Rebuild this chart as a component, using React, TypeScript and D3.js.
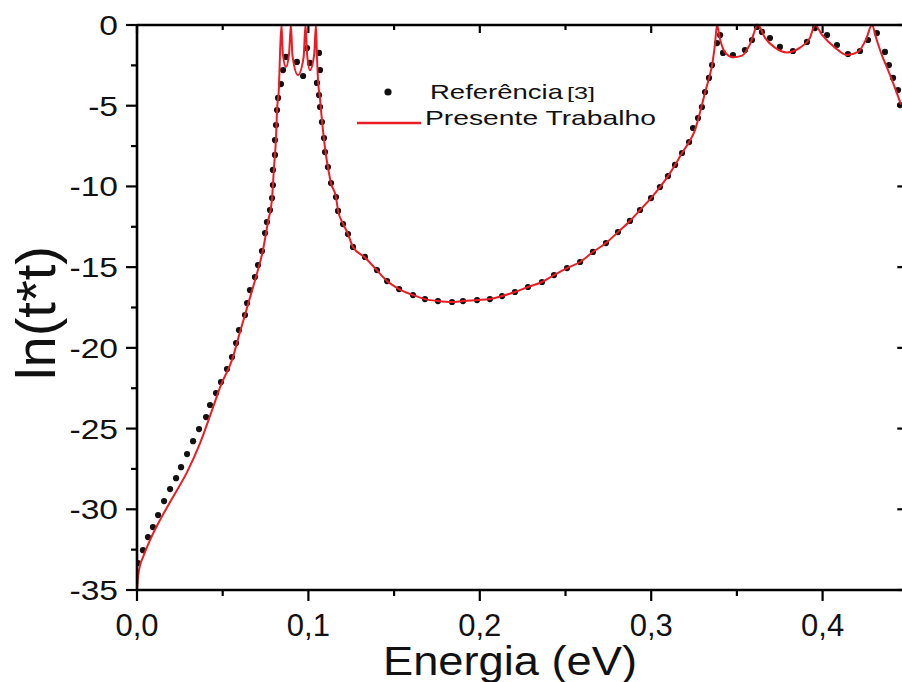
import React from "react";
import * as d3 from "d3";

// Axis ticks
const xMajorTicks = [0, 0.1, 0.2, 0.3, 0.4];
const xTickLabels = ["0,0", "0,1", "0,2", "0,3", "0,4"];
const xMinorTicks = [0.05, 0.15, 0.25, 0.35, 0.45];
const yMajorTicks = [0, -5, -10, -15, -20, -25, -30, -35];
const yTickLabels = ["0", "-5", "-10", "-15", "-20", "-25", "-30", "-35"];
const yMinorTicks = [-2.5, -7.5, -12.5, -17.5, -22.5, -27.5, -32.5];

// Series: Referência [3] (black dots) — [energy eV, ln(t*t)]
const referencia: [number, number][] = [
  [0.0006, -33.33], [0.0035, -32.53], [0.0064, -31.72], [0.0093, -31.1], [0.0123, -30.36],
  [0.0158, -29.49], [0.0193, -28.75], [0.0228, -28.07], [0.0257, -27.39], [0.0292, -26.58],
  [0.0327, -25.78], [0.0362, -25.03], [0.0403, -24.29], [0.0426, -23.54], [0.0461, -22.8],
  [0.049, -22.12], [0.0525, -21.31], [0.0554, -20.57], [0.0578, -19.7], [0.0595, -18.9],
  [0.063, -17.97], [0.0642, -17.22], [0.0659, -16.42], [0.0688, -15.61], [0.0706, -14.87],
  [0.0729, -14.0], [0.0747, -12.89], [0.0758, -12.21], [0.0776, -11.46], [0.0788, -10.72],
  [0.0793, -9.91], [0.0793, -8.98], [0.0805, -8.05], [0.0805, -7.13], [0.0811, -6.2],
  [0.0817, -5.27], [0.0823, -4.52], [0.084, -3.66], [0.0852, -2.79], [0.0869, -1.98],
  [0.0933, -2.29], [0.0969, -3.16], [0.0992, -1.43], [0.1009, -2.35], [0.1062, -1.73],
  [0.1068, -2.79], [0.105, -3.59], [0.1062, -4.34], [0.1068, -5.08], [0.1079, -6.01],
  [0.1091, -7.0], [0.1097, -7.87], [0.1114, -8.8], [0.1132, -9.79], [0.1161, -10.66],
  [0.1173, -11.52], [0.1202, -12.33], [0.1231, -12.95], [0.126, -13.75], [0.133, -14.37],
  [0.14, -15.18], [0.1459, -15.86], [0.1529, -16.36], [0.161, -16.73], [0.168, -16.98],
  [0.1756, -17.1], [0.1838, -17.16], [0.1902, -17.1], [0.1984, -17.04], [0.2059, -16.98],
  [0.213, -16.79], [0.2205, -16.54], [0.2281, -16.23], [0.2363, -15.92], [0.2433, -15.49],
  [0.2509, -15.06], [0.2585, -14.68], [0.266, -14.06], [0.2736, -13.51], [0.2806, -12.83],
  [0.2876, -12.14], [0.2935, -11.46], [0.2999, -10.72], [0.3051, -10.04], [0.3098, -9.36],
  [0.3139, -8.67], [0.318, -7.93], [0.3221, -7.25], [0.3244, -6.38], [0.3273, -5.76],
  [0.3296, -5.08], [0.3314, -4.15], [0.3337, -3.28], [0.3355, -2.48], [0.3384, -1.12],
  [0.3402, -0.62], [0.3419, -1.73], [0.3477, -1.86], [0.3547, -1.55], [0.3588, -0.93],
  [0.3617, -0.12], [0.3646, -0.43], [0.3693, -0.81], [0.3751, -1.36], [0.3827, -1.61],
  [0.3909, -1.05], [0.3956, -0.19], [0.4026, -0.62], [0.4084, -1.24], [0.4148, -1.8],
  [0.4218, -1.61], [0.4265, -0.93], [0.4317, -0.5], [0.4364, -1.67], [0.4387, -2.48],
  [0.4411, -3.28], [0.444, -4.03], [0.4452, -4.96],
];

// Series: Presente Trabalho (red line) — [energy eV, ln(t*t)]
const presenteTrabalho: [number, number][] = [
  [0, -35], [0.0006, -34.2], [0.0018, -33.46], [0.0035, -32.96], [0.0076, -31.91],
  [0.0134, -30.67], [0.021, -29.24], [0.0292, -27.7], [0.0368, -25.9], [0.0444, -23.67],
  [0.049, -22.3], [0.0554, -20.76], [0.0601, -19.02], [0.0648, -17.29], [0.0694, -15.61],
  [0.0735, -13.94], [0.0764, -12.21], [0.0788, -10.72], [0.0799, -8.86], [0.0811, -7.0],
  [0.0817, -5.27], [0.0828, -3.9], [0.0835, -1.6], [0.0843, 0], [0.0851, -1.8],
  [0.0869, -2.6], [0.0887, -1.8], [0.0898, 0], [0.0907, -1.9], [0.0939, -3.1],
  [0.0972, -2.0], [0.0983, 0], [0.0993, -1.9], [0.1009, -2.8], [0.1034, -1.8],
  [0.1044, 0], [0.105, -2.0], [0.1056, -3.41], [0.1068, -4.6], [0.1079, -5.9],
  [0.1091, -7.1], [0.1103, -8.1], [0.1114, -8.8], [0.1132, -9.8], [0.1161, -10.66],
  [0.1173, -11.5], [0.1202, -12.3], [0.1231, -12.95], [0.126, -13.75], [0.133, -14.4],
  [0.14, -15.2], [0.1459, -15.86], [0.1529, -16.36], [0.161, -16.73], [0.168, -16.98],
  [0.1756, -17.1], [0.1838, -17.16], [0.1902, -17.1], [0.1984, -17.04], [0.2059, -16.98],
  [0.213, -16.79], [0.2205, -16.54], [0.2281, -16.23], [0.2363, -15.92], [0.2433, -15.49],
  [0.2509, -15.06], [0.2585, -14.68], [0.266, -14.06], [0.2736, -13.51], [0.2806, -12.83],
  [0.2876, -12.14], [0.2935, -11.46], [0.2999, -10.72], [0.3051, -10.04], [0.3098, -9.36],
  [0.3139, -8.67], [0.318, -7.93], [0.3221, -7.25], [0.3256, -6.5], [0.3285, -5.4],
  [0.3314, -4.2], [0.3337, -3.3], [0.3355, -2.5], [0.3372, -1.2], [0.3384, 0],
  [0.3402, -0.9], [0.3431, -1.7], [0.3477, -2.0], [0.353, -1.9], [0.3576, -1.2],
  [0.3623, 0], [0.3664, -0.8], [0.3722, -1.4], [0.3792, -1.7], [0.3868, -1.4],
  [0.3926, -0.8], [0.3956, 0], [0.3996, -0.6], [0.4072, -1.4], [0.4142, -1.86],
  [0.4207, -1.67], [0.4253, -0.9], [0.4288, 0], [0.4312, -0.8], [0.4347, -1.9],
  [0.4382, -2.8], [0.4422, -3.9], [0.4463, -5.1],
];

const legendLabels = ["Referência", "[3]", "Presente Trabalho"];
const xAxisTitle = "Energia (eV)";
const yAxisTitle = "ln(t*t)";

export default function App() {
  const W = 902;
  const H = 682;
  const x = d3.scaleLinear().domain([0, 0.45]).range([137, 908.3]);
  const y = d3.scaleLinear().domain([-35, 0]).range([590, 25]);
  const x0 = x(0);
  const x1 = x(0.45);
  const y0 = y(-35);
  const y1 = y(0);
  const line = d3
    .line<[number, number]>()
    .x((d) => x(d[0]))
    .y((d) => y(d[1]))
    .curve(d3.curveMonotoneX);

  const red = "#ec1c24";
  const font = "'Liberation Sans', Arial, Helvetica, sans-serif";
  const axisW = 2.6;

  return (
    <svg
      width={W}
      height={H}
      style={{ position: "absolute", left: 0, top: 0, display: "block" }}
      fontFamily={font}
    >
      <rect x={0} y={0} width={W} height={H} fill="#ffffff" />
      <defs>
        <clipPath id="plotClip">
          <rect x={x0} y={y1 - 2} width={x1 - x0} height={y0 - y1 + 4} />
        </clipPath>
      </defs>

      {/* data */}
      <g clipPath="url(#plotClip)">
        {referencia.map((d, i) => (
          <circle key={i} cx={x(d[0])} cy={y(d[1])} r={3.1} fill="#111" />
        ))}
        <path d={line(presenteTrabalho) || ""} fill="none" stroke={red} strokeWidth={2} strokeLinejoin="round" />
      </g>

      {/* axes frame */}
      <g stroke="#000" strokeWidth={axisW} fill="none">
        <line x1={x0} y1={y1} x2={x0} y2={y0} />
        <line x1={x1} y1={y1} x2={x1} y2={y0} />
        <line x1={x0} y1={y0} x2={x1} y2={y0} />
        <line x1={x0} y1={y1} x2={x1} y2={y1} />
      </g>

      {/* ticks */}
      <g stroke="#000" strokeWidth={2.2}>
        {xMajorTicks.map((t) => (
          <line key={"bM" + t} x1={x(t)} x2={x(t)} y1={y0} y2={y0 + 11} />
        ))}
        {xMinorTicks.map((t) => (
          <line key={"bm" + t} x1={x(t)} x2={x(t)} y1={y0} y2={y0 + 6} />
        ))}
        {xMajorTicks.map((t) => (
          <line key={"tM" + t} x1={x(t)} x2={x(t)} y1={y1} y2={y1 + 8} />
        ))}
        {xMinorTicks.map((t) => (
          <line key={"tm" + t} x1={x(t)} x2={x(t)} y1={y1} y2={y1 + 5} />
        ))}
        {yMajorTicks.map((t) => (
          <line key={"lM" + t} x1={x0 - 11} x2={x0} y1={y(t)} y2={y(t)} />
        ))}
        {yMinorTicks.map((t) => (
          <line key={"lm" + t} x1={x0 - 6} x2={x0} y1={y(t)} y2={y(t)} />
        ))}
        {yMajorTicks.map((t) => (
          <line key={"rM" + t} x1={x1 - 11} x2={x1} y1={y(t)} y2={y(t)} />
        ))}
        {yMinorTicks.map((t) => (
          <line key={"rm" + t} x1={x1 - 6} x2={x1} y1={y(t)} y2={y(t)} />
        ))}
      </g>

      {/* tick labels */}
      <g fill="#111" fontSize={31} textAnchor="middle">
        {xMajorTicks.map((t, i) => (
          <text key={"xl" + t} x={x(t)} y={636}>
            {xTickLabels[i]}
          </text>
        ))}
      </g>
      <g fill="#111" fontSize={28} textAnchor="end">
        {yMajorTicks.map((t, i) => (
          <text key={"yl" + t} transform={`translate(118,${y(t) + 10}) scale(1.2,1)`}>
            {yTickLabels[i]}
          </text>
        ))}
      </g>

      {/* axis titles */}
      <text x={383} y={675} fontSize={41} fill="#111" textLength={254} lengthAdjust="spacingAndGlyphs">
        {xAxisTitle}
      </text>
      <text
        transform={`translate(55,313) rotate(-90)`}
        textAnchor="middle"
        fontSize={56}
        fill="#111"
      >
        {yAxisTitle}
      </text>

      {/* legend */}
      <circle cx={388} cy={92} r={3.6} fill="#111" />
      <text x={430} y={99} fontSize={21} fill="#111" textLength={133} lengthAdjust="spacingAndGlyphs">
        {legendLabels[0]}
      </text>
      <text x={567} y={99} fontSize={17} fill="#111" textLength={28} lengthAdjust="spacingAndGlyphs">
        {legendLabels[1]}
      </text>
      <line x1={357} x2={421} y1={123} y2={123} stroke={red} strokeWidth={2.4} />
      <text x={425} y={125} fontSize={21} fill="#111" textLength={231} lengthAdjust="spacingAndGlyphs">
        {legendLabels[2]}
      </text>
    </svg>
  );
}
